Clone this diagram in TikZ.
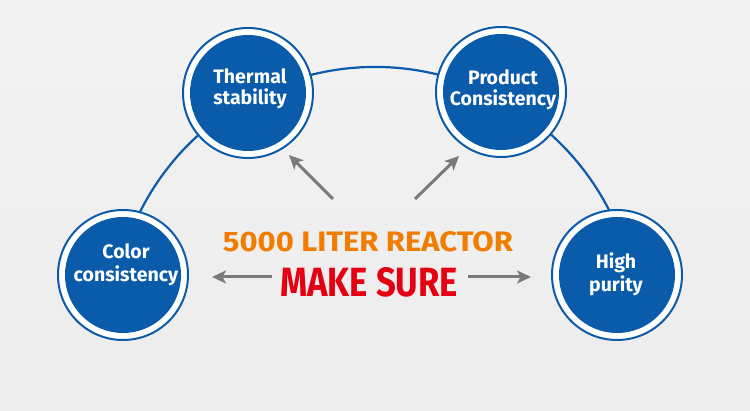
\documentclass[tikz,border=0pt]{standalone}
\usepackage{fontspec}
\setmainfont{Fira Sans}
\usepackage{graphicx}
\usetikzlibrary{arrows.meta}
\definecolor{bgray}{RGB}{236,236,236}
\definecolor{bgtop}{RGB}{243,243,243}
\definecolor{cblue}{RGB}{11,91,171}
\definecolor{agray}{RGB}{122,122,122}
\definecolor{torange}{RGB}{240,125,0}
\definecolor{tred}{RGB}{228,0,18}
\tikzset{
  ring/.style={circle, draw=cblue, line width=2pt, fill=white, minimum size=130pt, inner sep=0pt},
  core/.style={circle, fill=cblue, minimum size=116pt, inner sep=0pt},
  lbl/.style={anchor=base, text=white, font=\bfseries\fontsize{19.5}{22}\selectfont, inner sep=0pt},
  arcline/.style={draw=cblue, line width=2.2pt},
  garrow/.style={draw=agray, line width=3pt, -{Stealth[length=14pt,width=13pt,inset=3.5pt]}},
  big/.style={anchor=base, inner sep=0pt, font=\bfseries\fontsize{29}{32}\selectfont}
}
\begin{document}
\begin{tikzpicture}[x=1pt,y=1pt]
\useasboundingbox (0,0) rectangle (750,411);
\shade[top color=bgtop, bottom color=bgray] (0,0) rectangle (750,411);
% arc joining circles
\coordinate (arcc) at (375,81);
\draw[arcline] ([shift={(156:263)}]arcc) arc[start angle=156, end angle=24, radius=263];
% circles
\node[ring] (thermal) at (248,318) {};
\node[core] (thermalc) at (thermal.center) {};
\node[ring] (product) at (501,319) {};
\node[core] (productc) at (product.center) {};
\node[ring] (color) at (123,136) {};
\node[core] (colorc) at (color.center) {};
\node[ring] (high) at (617,136) {};
\node[core] (highc) at (high.center) {};
% labels
\node[lbl] (t1) at (250,327) {Thermal};
\node[lbl] (t2) at (250,306) {stability};
\node[lbl] (p1) at (503,326) {Product};
\node[lbl] (p2) at (503,305) {Consistency};
\node[lbl] (c1) at (126,152) {Color};
\node[lbl] (c2) at (126,129) {consistency};
\node[lbl] (h1) at (616,142) {High};
\node[lbl] (h2) at (616,119) {purity};
% central text
\node[big, text=torange] (title) at (368,159) {\resizebox{290pt}{20pt}{5000 LITER REACTOR}};
\node[big, text=tred] (sure) at (369,114) {\resizebox{178pt}{29pt}{MAKE SURE}};
% arrows
\coordinate (a1s) at (333,212); \coordinate (a1e) at (289,256);
\coordinate (a2s) at (415,212); \coordinate (a2e) at (459,255);
\coordinate (a3s) at (272,134); \coordinate (a3e) at (212,134);
\coordinate (a4s) at (468,134); \coordinate (a4e) at (531,134);
\draw[garrow] (a1s) -- (a1e);
\draw[garrow] (a2s) -- (a2e);
\draw[garrow] (a3s) -- (a3e);
\draw[garrow] (a4s) -- (a4e);
\end{tikzpicture}
\end{document}
